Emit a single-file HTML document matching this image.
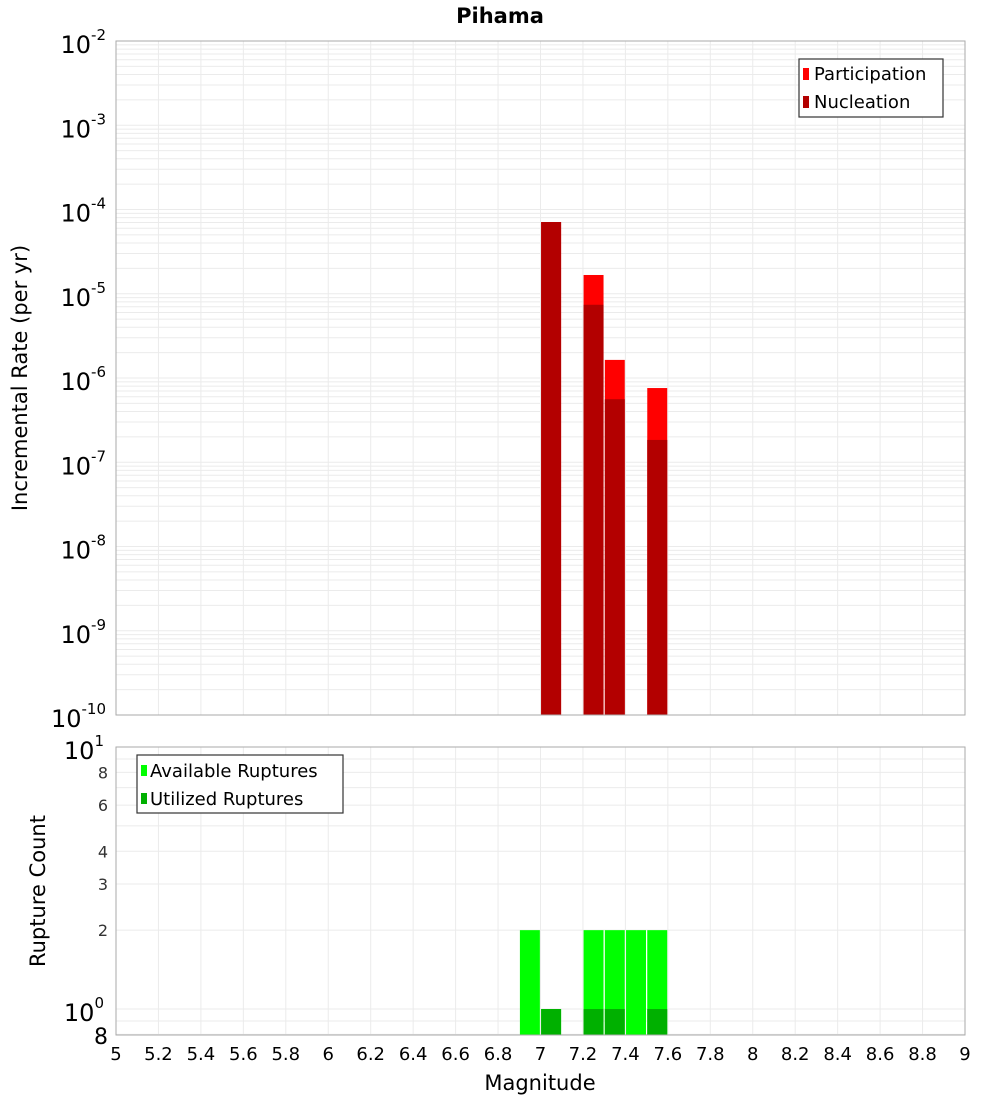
<!DOCTYPE html>
<html><head><meta charset="utf-8"><style>
body{margin:0;background:#fff;font-family:"Liberation Sans","DejaVu Sans",sans-serif}
svg text{font-family:"DejaVu Sans","Liberation Sans",sans-serif}
</style></head><body>
<svg id="c" width="1000" height="1100" xmlns="http://www.w3.org/2000/svg">
<rect width="1000" height="1100" fill="#fff"/>
<text x="500" y="23" text-anchor="middle" font-size="21" font-weight="bold">Pihama</text>
<g id="topPlot"></g>
<g id="botPlot"></g>
<text transform="translate(27,378) rotate(-90)" text-anchor="middle" font-size="21">Incremental Rate (per yr)</text>
<text transform="translate(45,891) rotate(-90)" text-anchor="middle" font-size="21">Rupture Count</text>
<text x="540" y="1090" text-anchor="middle" font-size="21">Magnitude</text>
<g>
<rect x="799" y="59" width="144" height="58" fill="#fff" stroke="#333" stroke-width="1.2"/>
<rect x="803" y="68" width="6" height="12" fill="#ff0000"/>
<text x="814" y="80" font-size="18">Participation</text>
<rect x="803" y="96" width="6" height="12" fill="#b30000"/>
<text x="814" y="108" font-size="18">Nucleation</text>
</g>
<g>
<rect x="137" y="755" width="206" height="58" fill="#fff" stroke="#333" stroke-width="1.2"/>
<rect x="141" y="765" width="6" height="11" fill="#00ff00"/>
<text x="150" y="777" font-size="18">Available Ruptures</text>
<rect x="141" y="793" width="6" height="11" fill="#00b000"/>
<text x="150" y="805" font-size="18">Utilized Ruptures</text>
</g>
</svg>
<script>
const mags=[6.95,7.05,7.25,7.35,7.45,7.55];
const participation=[0,7.1e-5,1.67e-5,1.64e-6,0,7.6e-7];
const nucleation=[0,7.1e-5,7.4e-6,5.6e-7,0,1.84e-7];
const available=[2,1,2,2,2,2];
const utilized=[0,1,1,1,0,1];
const xTicks=[5,5.2,5.4,5.6,5.8,6,6.2,6.4,6.6,6.8,7,7.2,7.4,7.6,7.8,8,8.2,8.4,8.6,8.8,9];
const topDecades=[-2,-3,-4,-5,-6,-7,-8,-9,-10];
const botTicks=[2,3,4,6,8];

const NS='http://www.w3.org/2000/svg';
const X0=116,X1=965;
const xs=m=>X0+(m-5)/4*(X1-X0);
const T0=41,T1=715;
const yT=v=>T0+(-2-Math.log10(v))/8*(T1-T0);
const B0=747,B1=1035,bmin=Math.log10(0.796);
const yB=v=>B1-(Math.log10(v)-bmin)/(1-bmin)*(B1-B0);
function el(p,t,a){const e=document.createElementNS(NS,t);for(const k in a)e.setAttribute(k,a[k]);p.appendChild(e);return e;}
const gTop=document.getElementById('topPlot'),gBot=document.getElementById('botPlot');

for(const g of [gTop,gBot]){
  const y0=g===gTop?T0:B0,y1=g===gTop?T1:B1;
  xTicks.forEach(m=>{const l=el(g,'line',{x1:xs(m),x2:xs(m),y1:y0,y2:y1,stroke:'#ebebeb'});
  
  });
}
for(let d=-10;d<-2;d++)for(let k=1;k<10;k++){const v=k*Math.pow(10,d);const l=el(gTop,'line',{x1:X0,x2:X1,y1:yT(v),y2:yT(v),stroke:'#ebebeb'});

}
[0.8,0.9,1,2,3,4,5,6,7,8,9].forEach(v=>{const l=el(gBot,'line',{x1:X0,x2:X1,y1:yB(v),y2:yB(v),stroke:'#ebebeb'});

});

const bw=(X1-X0)/40*0.94;
mags.forEach((m,i)=>{
  if(participation[i]>0){const r=el(gTop,'rect',{x:xs(m)-bw/2,y:yT(participation[i]),width:bw,height:T1-yT(participation[i]),fill:'#ff0000'});
  
  }
  if(nucleation[i]>0){const r=el(gTop,'rect',{x:xs(m)-bw/2,y:yT(nucleation[i]),width:bw,height:T1-yT(nucleation[i]),fill:'#b30000'});
  
  }
  if(available[i]>0){const r=el(gBot,'rect',{x:xs(m)-bw/2,y:yB(available[i]),width:bw,height:B1-yB(available[i]),fill:'#00ff00'});
  
  }
  if(utilized[i]>0){const r=el(gBot,'rect',{x:xs(m)-bw/2,y:yB(utilized[i]),width:bw,height:B1-yB(utilized[i]),fill:'#00b000'});
  
  }
});

el(gTop,'rect',{x:X0,y:T0,width:X1-X0,height:T1-T0,fill:'none',stroke:'#aaa'});
el(gBot,'rect',{x:X0,y:B0,width:X1-X0,height:B1-B0,fill:'none',stroke:'#aaa'});

topDecades.forEach(d=>{const y=yT(Math.pow(10,d));const t=el(gTop,'text',{x:106,y:y+12,'text-anchor':'end','font-size':24});


t.textContent='10';const s=el(t,'tspan',{dy:-13,'font-size':15});s.textContent=String(d);});
[[10,'1'],[1,'0']].forEach(([v,e])=>{const y=yB(v);const t=el(gBot,'text',{x:104,y:y+12,'text-anchor':'end','font-size':24});


t.textContent='10';const s=el(t,'tspan',{dy:-13,'font-size':15});s.textContent=e;});
botTicks.forEach(v=>{const t=el(gBot,'text',{x:108,y:yB(v)+6,'text-anchor':'end','font-size':16,fill:'#333'});


t.textContent=v;});
{const t=el(gBot,'text',{x:108,y:B1+9,'text-anchor':'end','font-size':22});


t.textContent='8';}
xTicks.forEach(m=>{const t=el(gBot,'text',{x:xs(m),y:1060,'text-anchor':'middle','font-size':18});


t.textContent=String(m);});
</script>
</body></html>
